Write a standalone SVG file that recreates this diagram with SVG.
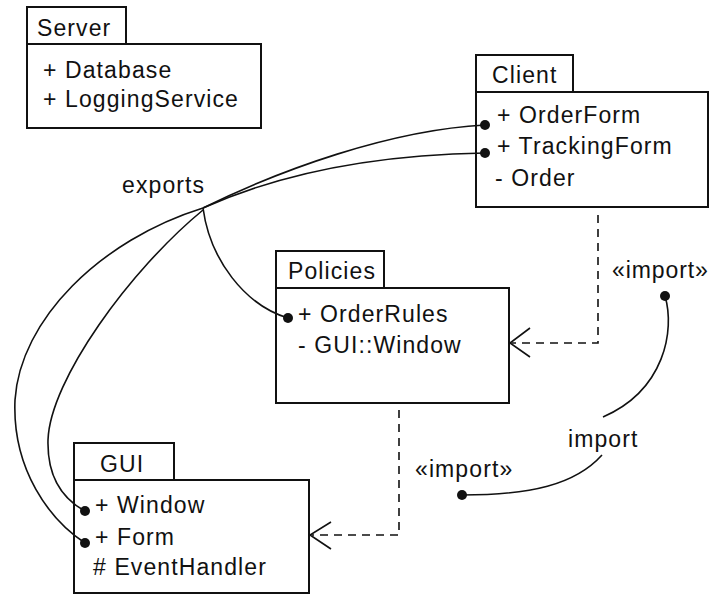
<svg xmlns="http://www.w3.org/2000/svg" width="709" height="596" viewBox="0 0 709 596">
<style>
text{font-family:"Liberation Sans",Arial,sans-serif;font-size:23px;letter-spacing:1.1px;fill:#111}
.box{fill:#fff;stroke:#111;stroke-width:2}
.link{fill:none;stroke:#111;stroke-width:1.6}
.dep{fill:none;stroke:#111;stroke-width:1.6;stroke-dasharray:8,6}
.head{fill:none;stroke:#111;stroke-width:1.6}
.dot{fill:#111}
</style>
<rect width="709" height="596" fill="#fff"/>
<g id="Server">
<rect class="box" x="27" y="7" width="99" height="37"/>
<rect class="box" x="27" y="44" width="234" height="84"/>
<text x="37" y="36">Server</text>
<text x="43" y="78">+ Database</text>
<text x="43" y="107">+ LoggingService</text>
</g>
<g id="Client">
<rect class="box" x="476" y="55" width="97" height="37"/>
<rect class="box" x="476" y="92" width="232" height="115"/>
<text x="492" y="83">Client</text>
<text x="497" y="123">+ OrderForm</text>
<text x="497" y="154">+ TrackingForm</text>
<text x="495" y="186">- Order</text>
</g>
<g id="Policies">
<rect class="box" x="276" y="251" width="108" height="37"/>
<rect class="box" x="276" y="288" width="233" height="115"/>
<text x="288" y="279">Policies</text>
<text x="298" y="322">+ OrderRules</text>
<text x="298" y="353">- GUI::Window</text>
</g>
<g id="GUI">
<rect class="box" x="74" y="443" width="100" height="37"/>
<rect class="box" x="74" y="480" width="235" height="113"/>
<text x="100" y="472">GUI</text>
<text x="95" y="513">+ Window</text>
<text x="95" y="545">+ Form</text>
<text x="93" y="575"># EventHandler</text>
</g>
<g id="connectors">
<path class="link" d="M203,208 C280,170 390,130 485,125"/>
<path class="link" d="M203,208 C270,178 360,155 485,153"/>
<path class="link" d="M203,208 C210,260 245,305 288,318"/>
<path class="link" d="M203,208 C100,240 20,320 15,400 C12,470 50,520 85,543"/>
<path class="link" d="M203,210 C130,270 50,380 48,440 C47,480 65,500 85,511"/>
<circle class="dot" cx="485" cy="125" r="5"/>
<circle class="dot" cx="485" cy="153" r="5"/>
<circle class="dot" cx="288" cy="318" r="5"/>
<circle class="dot" cx="85" cy="511" r="5"/>
<circle class="dot" cx="85" cy="543" r="5"/>
<text x="122" y="193">exports</text>
<path class="dep" d="M598,215 V343 H512"/>
<path class="head" d="M530,328 L510,343 L530,357"/>
<path class="dep" d="M399,410 V535 H312"/>
<path class="head" d="M331,522 L310,535 L331,549"/>
<text x="612" y="278" style="letter-spacing:0.9px">«import»</text>
<text x="415" y="477">«import»</text>
<text x="568" y="447">import</text>
<path class="link" d="M665,296 C675,330 665,390 603,417"/>
<path class="link" d="M602,455 C575,485 530,495 462,495"/>
<circle class="dot" cx="665" cy="296" r="5"/>
<circle class="dot" cx="462" cy="495" r="5"/>
</g>
</svg>
